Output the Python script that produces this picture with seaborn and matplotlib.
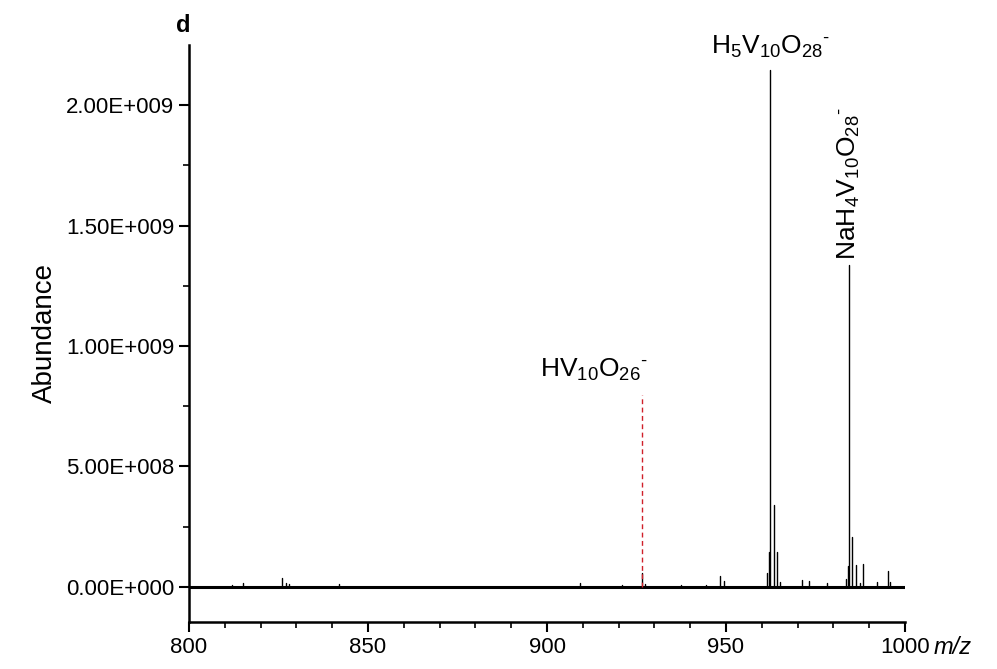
import numpy as np
import pandas as pd
import seaborn as sns
import matplotlib
matplotlib.use("Agg")
import matplotlib.pyplot as plt
from matplotlib.ticker import FuncFormatter, MultipleLocator

# ---- data ----
peak_mz = [812.1, 815.0, 826.1, 827.0, 828.0, 841.9, 909.3, 921.0, 926.4, 927.4,
           937.5, 944.3, 948.3, 949.4, 961.4, 962.0, 962.4, 963.3, 964.3, 965.2,
           971.3, 973.3, 978.3, 983.4, 984.1, 984.4, 985.3, 986.3, 987.3, 988.3,
           992.3, 995.3, 995.7]
peak_abund = [1.0e7, 1.5e7, 3.7e7, 1.5e7, 1.3e7, 1.3e7, 1.8e7, 0.8e7, 5.9e7, 1.4e7,
              0.8e7, 1.0e7, 4.6e7, 2.5e7, 5.7e7, 1.46e8, 2.145e9, 3.4e8, 1.46e8, 2.2e7,
              2.9e7, 2.5e7, 1.7e7, 3.3e7, 8.7e7, 1.336e9, 2.06e8, 9.1e7, 1.7e7, 9.5e7,
              2.0e7, 6.6e7, 2.0e7]
baseline_mz = [800, 1000]
baseline_abund = [0, 0]

marker_mz = 926.4            # HV10O26- assignment (dashed)
marker_top = 7.97e8

x_major = [800, 850, 900, 950, 1000]
y_major = [0, 5e8, 1e9, 1.5e9, 2e9]

labels = {
    "H5": (r"H$_5$V$_{10}$O$_{28}$$^{\text{-}}$", 962.4, 2.145e9),
    "Na": (r"NaH$_4$V$_{10}$O$_{28}$$^{\text{-}}$", 984.4, 1.336e9),
    "HV": (r"HV$_{10}$O$_{26}$$^{\text{-}}$", 913.1, 8.46e8),
}

# ---- style ----
sns.set_theme(style="ticks")
plt.rcParams["font.family"] = ["Liberation Sans", "DejaVu Sans"]
plt.rcParams["mathtext.fontset"] = "custom"
plt.rcParams["mathtext.rm"] = "Liberation Sans"
plt.rcParams["mathtext.it"] = "Liberation Sans:italic"
plt.rcParams["mathtext.bf"] = "Liberation Sans:bold"
plt.rcParams["text.color"] = "black"
plt.rcParams["axes.labelcolor"] = "black"

fig = plt.figure(figsize=(9.97, 6.69), dpi=100)
ax = fig.add_axes([0.1896, 0.0703, 0.7181, 0.8624])

# stick spectrum built from the peak arrays
rows = []
for i, (m, a) in enumerate(zip(peak_mz, peak_abund)):
    rows.append({"mz": m, "ab": 0.0, "unit": i})
    rows.append({"mz": m, "ab": a, "unit": i})
sticks = pd.DataFrame(rows)

sns.lineplot(x=baseline_mz, y=baseline_abund, color="black", linewidth=2.2,
             estimator=None, ax=ax)
sns.lineplot(data=sticks, x="mz", y="ab", units="unit", estimator=None, sort=False,
             color="black", linewidth=1.0, ax=ax)

dash = pd.DataFrame({"mz": [marker_mz, marker_mz], "ab": [0, marker_top]})
sns.lineplot(data=dash, x="mz", y="ab", sort=False, estimator=None, color="#d0202a",
             linewidth=1.0, linestyle=(0, (3.5, 2.5)), ax=ax)

ax.set_xlim(800, 1000)
ax.set_ylim(-1.452e8, 2.249e9)
ax.set_xticks(x_major)
ax.set_yticks(y_major)
ax.xaxis.set_minor_locator(MultipleLocator(10))
ax.yaxis.set_minor_locator(MultipleLocator(2.5e8))


def sci_fmt(v, pos):
    if v == 0:
        return "0.00E+000"
    e = int(np.floor(np.log10(abs(v))))
    m = v / 10 ** e
    return f"{m:.2f}E+{e:03d}"


ax.yaxis.set_major_formatter(FuncFormatter(sci_fmt))
ax.tick_params(axis="both", which="major", direction="out", length=7, width=1.5,
               labelsize=16, color="black", labelcolor="black")
ax.tick_params(axis="both", which="minor", direction="out", length=4, width=1.2,
               color="black")
for s in ["top", "right"]:
    ax.spines[s].set_visible(False)
for s in ["left", "bottom"]:
    ax.spines[s].set_linewidth(1.8)
    ax.spines[s].set_color("black")

ax.set_xlabel("")
ax.set_ylabel("Abundance", fontsize=20, labelpad=6, color="black")

# annotations
t, x, y = labels["H5"]
ax.text(x, y + 0.4e8, t, ha="center", va="bottom", fontsize=19, color="black")
t, x, y = labels["Na"]
ax.text(x, y + 0.2e8, t, ha="center", va="bottom", rotation=90, fontsize=19, color="black")
t, x, y = labels["HV"]
ax.text(x, y, t, ha="center", va="bottom", fontsize=19, color="black")

fig.text(183 / 997, 1 - 25 / 669, "d", fontsize=17, fontweight="bold", ha="center",
         va="center", color="black")
fig.text(934 / 997, 1 - 648 / 669, "m/z", fontsize=17, style="italic", ha="left",
         va="center", color="black")

fig.savefig("out.png", dpi=100)
